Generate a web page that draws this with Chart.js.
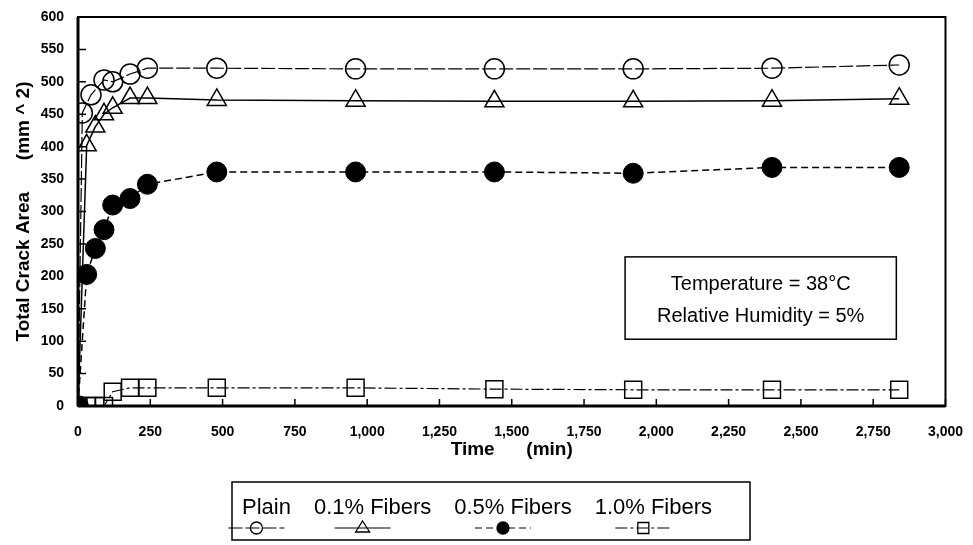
<!DOCTYPE html>
<html>
<head>
<meta charset="utf-8">
<script src="https://cdn.jsdelivr.net/npm/chart.js@4.4.1/dist/chart.umd.min.js"></script>
<style>
html, body { margin: 0; padding: 0; background: #fff; }
canvas { display: block; }
</style>
</head>
<body>
<canvas id="myChart" width="973" height="545"></canvas>
<script>
// values
var seriesNames = ["Plain", "0.1% Fibers", "0.5% Fibers", "1.0% Fibers"];

var plainTime = [0, 15, 45, 90, 120, 180, 240, 480, 960, 1440, 1920, 2400, 2840];
var plainArea = [0, 452, 480, 503, 500, 512, 521, 521, 520, 520, 520, 521, 526];

var fiber01Time = [0, 30, 60, 90, 120, 180, 240, 480, 960, 1440, 1920, 2400, 2840];
var fiber01Area = [0, 402, 431, 450, 460, 475, 475, 472, 471, 470, 470, 471, 474];

var fiber05Time = [0, 30, 60, 90, 120, 180, 240, 480, 960, 1440, 1920, 2400, 2840];
var fiber05Area = [0, 203, 243, 272, 310, 320, 342, 361, 361, 361, 359, 368, 368];

var fiber10Time = [0, 30, 60, 90, 120, 180, 240, 480, 960, 1440, 1920, 2400, 2840];
var fiber10Area = [0, 0, 0, 0, 22, 28, 28, 28, 28, 26, 25, 25, 25];

var xTicks = { min: 0, max: 3000, step: 250 };
var yTicks = { min: 0, max: 600, step: 50 };

var noteLines = ["Temperature = 38\u00B0C", "Relative Humidity = 5%"];

function pts(t, v) {
    return t.map(function (x, i) { return { x: x, y: v[i] }; });
}

var ctx = document.getElementById("myChart");

// frame, inward ticks, note box, legend
var framePlugin = {
    id: 'frame',
    afterDraw: function (chart) {
        var c = chart.ctx, a = chart.chartArea;
        var xs = chart.scales.x, ys = chart.scales.y;
        c.save();
        c.strokeStyle = '#000';
        c.lineWidth = 2;
        c.strokeRect(a.left, a.top, a.right - a.left, a.bottom - a.top);
        c.lineWidth = 3;
        c.beginPath();
        c.moveTo(a.left, a.top); c.lineTo(a.left, a.bottom);
        c.moveTo(a.left, a.bottom); c.lineTo(a.right, a.bottom);
        c.stroke();
        c.lineWidth = 1.5;
        c.beginPath();
        xs.ticks.forEach(function (t) {
            var px = xs.getPixelForValue(t.value);
            c.moveTo(px, a.bottom); c.lineTo(px, a.bottom - 7);
        });
        ys.ticks.forEach(function (t) {
            var py = ys.getPixelForValue(t.value);
            c.moveTo(a.left, py); c.lineTo(a.left + 8, py);
        });
        c.stroke();

        // note box
        var bx0 = xs.getPixelForValue(1892), bx1 = xs.getPixelForValue(2830);
        var by0 = ys.getPixelForValue(230), by1 = ys.getPixelForValue(103);
        c.fillStyle = '#fff';
        c.fillRect(bx0, by0, bx1 - bx0, by1 - by0);
        c.lineWidth = 1.5;
        c.strokeRect(bx0, by0, bx1 - bx0, by1 - by0);
        c.fillStyle = '#000';
        c.font = '20px "Liberation Sans", Arial, sans-serif';
        c.textAlign = 'center';
        c.textBaseline = 'middle';
        var cx = (bx0 + bx1) / 2;
        c.fillText(noteLines[0], cx, by0 + 28);
        c.fillText(noteLines[1], cx, by0 + 60);

        // legend box under the chart
        var ds = chart.data.datasets;
        c.font = '22px "Liberation Sans", Arial, sans-serif';
        var gap = 23, widths = ds.map(function (d) { return c.measureText(d.label).width; });
        var total = widths.reduce(function (s, w) { return s + w; }, 0) + gap * (ds.length - 1);
        var lx = 477 - total / 2;
        c.lineWidth = 1.5;
        c.strokeRect(232, 482, 518, 58);
        c.textAlign = 'left';
        c.textBaseline = 'alphabetic';
        ds.forEach(function (d, i) {
            c.fillStyle = '#000';
            c.fillText(d.label, lx, 514);
            var mx = lx + widths[i] / 2 - 10, my = 528;
            c.save();
            c.strokeStyle = '#000';
            c.lineWidth = 1.2;
            c.setLineDash(d.borderDash || []);
            c.beginPath();
            c.moveTo(mx - 28, my); c.lineTo(mx + 28, my);
            c.stroke();
            c.restore();
            c.fillStyle = d.pointBackgroundColor;
            c.strokeStyle = '#000';
            c.lineWidth = 1.3;
            c.beginPath();
            if (d.pointStyle === 'circle') { c.arc(mx, my, 6, 0, Math.PI * 2); }
            else if (d.pointStyle === 'triangle') { c.moveTo(mx, my - 7); c.lineTo(mx + 7, my + 4); c.lineTo(mx - 7, my + 4); c.closePath(); }
            else { c.rect(mx - 5.5, my - 5.5, 11, 11); }
            c.fill(); c.stroke();
            lx += widths[i] + gap;
        });
        c.restore();
    }
};

new Chart(ctx, {
    type: 'line',
    data: {
        datasets: [
            {
                label: seriesNames[0],
                data: pts(plainTime, plainArea),
                borderColor: '#000', borderWidth: 1.2, borderDash: [14, 3],
                pointStyle: 'circle', pointRadius: 10, pointBorderWidth: 1.5,
                pointBorderColor: '#000', pointBackgroundColor: 'rgba(255,255,255,0)',
                fill: false, tension: 0
            },
            {
                label: seriesNames[1],
                data: pts(fiber01Time, fiber01Area),
                borderColor: '#000', borderWidth: 1.5,
                pointStyle: 'triangle', pointRadius: 11, pointBorderWidth: 1.5,
                pointBorderColor: '#000', pointBackgroundColor: 'rgba(255,255,255,0)',
                fill: false, tension: 0
            },
            {
                label: seriesNames[2],
                data: pts(fiber05Time, fiber05Area),
                borderColor: '#000', borderWidth: 1.5, borderDash: [7, 4],
                pointStyle: 'circle', pointRadius: 10, pointBorderWidth: 1,
                pointBorderColor: '#000', pointBackgroundColor: '#000',
                fill: false, tension: 0
            },
            {
                label: seriesNames[3],
                data: pts(fiber10Time, fiber10Area),
                borderColor: '#000', borderWidth: 1.2, borderDash: [12, 3, 3, 3],
                pointStyle: 'rect', pointRadius: 12, pointBorderWidth: 1.5,
                pointBorderColor: '#000', pointBackgroundColor: 'rgba(255,255,255,0)',
                fill: false, tension: 0
            }
        ]
    },
    options: {
        responsive: false,
        animation: false,
        layout: { padding: { left: 8, right: 27, top: 17, bottom: 80 } },
        plugins: { legend: { display: false }, tooltip: { enabled: false } },
        scales: {
            x: {
                type: 'linear',
                min: xTicks.min, max: xTicks.max,
                afterFit: function (s) { s.height = 59; },
                grid: { display: false }, border: { display: false },
                ticks: {
                    stepSize: xTicks.step, color: '#000', padding: 10,
                    maxRotation: 0, autoSkip: false,
                    font: { family: '"Liberation Sans", Arial, sans-serif', size: 14, weight: 'bold' },
                    callback: function (v) { return v.toLocaleString('en-US'); }
                },
                title: {
                    display: true, text: 'Time      (min)', color: '#000',
                    font: { family: '"Liberation Sans", Arial, sans-serif', size: 19, weight: 'bold' },
                    padding: { top: 2 }
                }
            },
            y: {
                min: yTicks.min, max: yTicks.max,
                afterFit: function (s) { s.width = 70; },
                grid: { display: false }, border: { display: false },
                ticks: {
                    stepSize: yTicks.step, color: '#000', padding: 6,
                    font: { family: '"Liberation Sans", Arial, sans-serif', size: 14, weight: 'bold' }
                },
                title: {
                    display: true, text: 'Total Crack Area      (mm ^ 2)', color: '#000',
                    font: { family: '"Liberation Sans", Arial, sans-serif', size: 19, weight: 'bold' },
                    padding: { bottom: 2 }
                }
            }
        }
    },
    plugins: [framePlugin]
});
</script>
</body>
</html>
